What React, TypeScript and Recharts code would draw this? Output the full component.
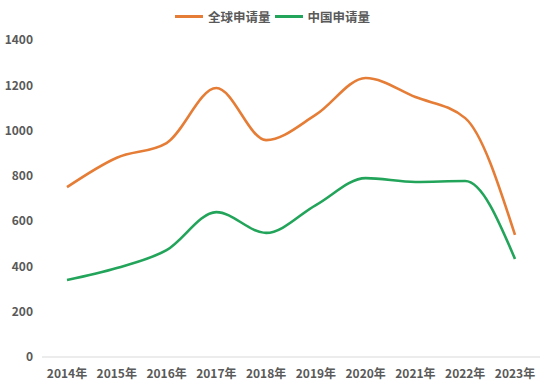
import React from "react";
import { LineChart, Line, XAxis, YAxis, Legend } from "recharts";

const years = ["2014年", "2015年", "2016年", "2017年", "2018年", "2019年", "2020年", "2021年", "2022年", "2023年"];
const globalApps = [750, 880, 945, 1188, 958, 1070, 1232, 1148, 1055, 539];
const chinaApps = [340, 393, 472, 640, 548, 671, 790, 773, 777, 433];
const yTicks = [0, 200, 400, 600, 800, 1000, 1200, 1400];

const data = years.map((y, i) => ({ year: y, global: globalApps[i], china: chinaApps[i] }));

const ORANGE = "#E57D36";
const GREEN = "#22A45A";
const TEXT = "#595959";
const FONT = "'Noto Sans CJK SC', 'Noto Sans', sans-serif";

const LegendContent = () => (
  <div style={{ display: "flex", justifyContent: "center", alignItems: "center", height: 18, fontFamily: FONT, fontSize: 12.5, fontWeight: 700, color: TEXT }}>
    <span style={{ display: "inline-block", width: 28, height: 3, background: ORANGE, marginRight: 5 }} />
    <span style={{ marginRight: 4 }}>全球申请量</span>
    <span style={{ display: "inline-block", width: 28, height: 3, background: GREEN, marginRight: 5 }} />
    <span>中国申请量</span>
  </div>
);

export default function App() {
  return (
    <div style={{ position: "absolute", left: 0, top: 0, background: "#fff" }}>
      <LineChart width={545} height={380} data={data} margin={{ top: 22, right: 5, bottom: 3, left: 0 }}>
        <XAxis
          dataKey="year"
          padding={{ left: 25, right: 25 }}
          axisLine={{ stroke: "#D9D9D9" }}
          tickLine={false}
          tick={{ fill: TEXT, fontSize: 12, fontWeight: 700, fontFamily: FONT }}
          tickMargin={6}
          interval={0}
          height={20}
        />
        <YAxis
          domain={[0, 1400]}
          ticks={yTicks}
          width={42}
          axisLine={false}
          tickLine={false}
          tickSize={0}
          tickMargin={9}
          tick={{ fill: TEXT, fontSize: 12, fontWeight: 700, fontFamily: FONT }}
        />
        <Legend verticalAlign="top" content={<LegendContent />} wrapperStyle={{ top: 7, left: 0, width: 545, height: 18 }} />
        <Line type="monotone" dataKey="global" name="全球申请量" stroke={ORANGE} strokeWidth={2.6} dot={false} isAnimationActive={false} />
        <Line type="monotone" dataKey="china" name="中国申请量" stroke={GREEN} strokeWidth={2.6} dot={false} isAnimationActive={false} />
      </LineChart>
    </div>
  );
}
